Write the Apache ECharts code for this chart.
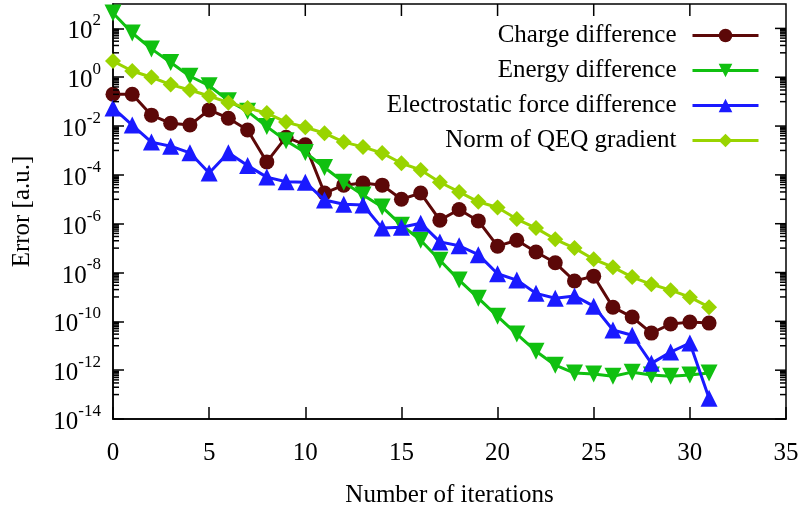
<!DOCTYPE html>
<html>
<head>
<meta charset="utf-8">
<script src="https://cdn.jsdelivr.net/npm/echarts@6/dist/echarts.min.js"></script>
<style>
  html, body { margin: 0; padding: 0; background: #fff; }
  #chart { width: 805px; height: 518px; }
</style>
</head>
<body>
<div id="chart"></div>
<script>
var iterations = [];
for (var i = 0; i <= 31; i++) iterations.push(i);

var charge = [0.2, 0.2, 2.8e-2, 1.3e-2, 1.1e-2, 4.6e-2, 2.1e-2, 6.9e-3, 3.4e-4, 3.5e-3,
  1.7e-3, 1.8e-5, 3.8e-5, 4.6e-5, 3.8e-5, 1.0e-5, 1.8e-5, 1.4e-6, 3.8e-6, 1.3e-6,
  1.2e-7, 2.1e-7, 6.9e-8, 2.5e-8, 4.5e-9, 7.1e-9, 3.8e-10, 1.5e-10, 3.3e-11, 7.8e-11,
  9.3e-11, 8.5e-11];
var energy = [430, 65, 14.5, 4.0, 1.1, 0.45, 0.11, 0.04, 9.5e-3, 2.5e-3,
  8.3e-4, 2.0e-4, 5.0e-5, 1.5e-5, 4.8e-6, 8.7e-7, 2.1e-7, 3.2e-8, 4.9e-9, 8.9e-10,
  1.6e-10, 3.0e-11, 6.0e-12, 1.6e-12, 7.6e-13, 6.9e-13, 5.6e-13, 8.3e-13, 6.3e-13, 5.6e-13,
  6.3e-13, 7.6e-13];
var electrostatic = [5.5e-2, 1.1e-2, 2.2e-3, 1.5e-3, 8e-4, 1.2e-4, 8e-4, 2.4e-4, 8.1e-5, 5.2e-5,
  5.0e-5, 9.3e-6, 6.3e-6, 5.8e-6, 6.6e-7, 7.2e-7, 1.05e-6, 1.8e-7, 1.25e-7, 5.4e-8,
  8.9e-9, 4.9e-9, 1.4e-9, 8.9e-10, 1.1e-9, 4.2e-10, 4.4e-11, 2.7e-11, 1.9e-12, 5.5e-12,
  1.3e-11, 7.1e-14];
var qeqNorm = [4.6, 1.8, 1.0, 0.5, 0.3, 0.17, 9.1e-2, 5.5e-2, 3.4e-2, 1.45e-2,
  8.9e-3, 5.1e-3, 2.2e-3, 1.4e-3, 7.8e-4, 3.0e-4, 1.6e-4, 5.0e-5, 2.0e-5, 7.9e-6,
  4.6e-6, 1.55e-6, 6.6e-7, 2.3e-7, 1.0e-7, 3.5e-8, 1.66e-8, 6.5e-9, 3.3e-9, 1.9e-9,
  9.8e-10, 3.8e-10];

var seriesNames = ['Charge difference', 'Energy difference', 'Electrostatic force difference', 'Norm of QEQ gradient'];
var colors = ['#5c0808', '#10c010', '#1a1aff', '#99d400'];

// mirrored ticks (gnuplot draws them on all four sides)
var xTickValues = [5, 10, 15, 20, 25, 30];
var majorExps = [-14, -12, -10, -8, -6, -4, -2, 0, 2];
// gnuplot style minor ticks: 1..9 x 10^(e+1) above every major tick 10^e
var minorMantissas = [1, 2, 3, 4, 5, 6, 7, 8, 9];
var minorDecades = [-13, -11, -9, -7, -5, -3, -1, 1];

var yTicks = [];
majorExps.forEach(function (e) { yTicks.push([0, Math.pow(10, e), 1]); });
minorDecades.forEach(function (d) {
  minorMantissas.forEach(function (m) { yTicks.push([0, m * Math.pow(10, d), 0]); });
});
var topTicks = xTickValues.map(function (x) { return [x, 1e3]; });

var font = 'Liberation Serif';
var chart = echarts.init(document.getElementById('chart'));

function pairs(arr) {
  return arr.map(function (v, i) { return [iterations[i], v]; });
}

function lineSeries(idx, data, symbol, size, rotate) {
  return {
    name: seriesNames[idx],
    type: 'line',
    data: pairs(data),
    symbol: symbol,
    symbolSize: size,
    symbolRotate: rotate || 0,
    showAllSymbol: true,
    color: colors[idx],
    lineStyle: { width: 3, color: colors[idx] },
    itemStyle: { color: colors[idx] },
    z: 3 + idx
  };
}

var tickStyle = { stroke: '#000', lineWidth: 1.5 };

var option = {
  animation: false,
  grid: { left: 113, right: 19, top: 4, bottom: 99, show: true, borderColor: '#000', borderWidth: 1.5, backgroundColor: 'transparent' },
  legend: {
    data: seriesNames,
    orient: 'vertical',
    align: 'right',
    right: 40,
    top: 18,
    padding: 5,
    itemWidth: 66,
    itemHeight: 17,
    itemGap: 10,
    lineStyle: { width: 3 },
    textStyle: { fontFamily: font, fontSize: 25, lineHeight: 24, color: '#000', padding: [0, 11, 0, 0] }
  },
  xAxis: {
    type: 'value',
    min: 0, max: 35, interval: 5,
    name: 'Number of iterations',
    nameLocation: 'middle',
    nameGap: 64,
    nameTextStyle: { fontFamily: font, fontSize: 25, color: '#000' },
    splitLine: { show: false },
    axisLine: { show: true, onZero: false, lineStyle: { color: '#000', width: 1.5 } },
    axisTick: { show: true, inside: true, length: 12, lineStyle: { color: '#000', width: 1.5 } },
    axisLabel: { margin: 22, fontFamily: font, fontSize: 25, color: '#000' }
  },
  yAxis: {
    type: 'log',
    logBase: 10,
    min: 1e-14,
    max: 1e3,
    interval: 2,
    name: 'Error [a.u.]',
    nameLocation: 'middle',
    nameGap: 78,
    nameTextStyle: { fontFamily: font, fontSize: 25, color: '#000' },
    splitLine: { show: false },
    axisLine: { show: true, onZero: false, lineStyle: { color: '#000', width: 1.5 } },
    axisTick: { show: true, inside: true, length: 11, lineStyle: { color: '#000', width: 1.5 } },
    axisLabel: {
      margin: 12,
      showMaxLabel: false,
      formatter: function (v) {
        var e = Math.round(Math.log10(v));
        return '{b|10}{s|' + e + '}';
      },
      rich: {
        b: { fontFamily: font, fontSize: 25, lineHeight: 32, verticalAlign: 'bottom', color: '#000' },
        s: { fontFamily: font, fontSize: 17, lineHeight: 17, verticalAlign: 'top', color: '#000' }
      }
    }
  },
  series: [
    lineSeries(0, charge, 'circle', 15),
    lineSeries(1, energy, 'triangle', 17, 180),
    lineSeries(2, electrostatic, 'triangle', 17),
    lineSeries(3, qeqNorm, 'diamond', 16),
    {
      // minor ticks on both sides, major ticks mirrored on the right
      type: 'custom',
      silent: true,
      clip: false,
      z: 10,
      data: yTicks,
      renderItem: function (params, api) {
        var v = api.value(1);
        var major = api.value(2) === 1;
        var l = api.coord([0, v]);
        var r = api.coord([35, v]);
        var children = [];
        if (major) {
          children.push({ type: 'line', shape: { x1: r[0] - 11, y1: r[1], x2: r[0], y2: r[1] }, style: tickStyle });
        } else {
          children.push({ type: 'line', shape: { x1: l[0], y1: l[1], x2: l[0] + 6, y2: l[1] }, style: tickStyle });
          children.push({ type: 'line', shape: { x1: r[0] - 6, y1: r[1], x2: r[0], y2: r[1] }, style: tickStyle });
        }
        return { type: 'group', children: children };
      }
    },
    {
      // x ticks mirrored on the top border
      type: 'custom',
      silent: true,
      clip: false,
      z: 10,
      data: topTicks,
      renderItem: function (params, api) {
        var p = api.coord([api.value(0), api.value(1)]);
        return { type: 'line', shape: { x1: p[0], y1: p[1], x2: p[0], y2: p[1] + 12 }, style: tickStyle };
      }
    }
  ]
};

chart.setOption(option);
</script>
</body>
</html>
